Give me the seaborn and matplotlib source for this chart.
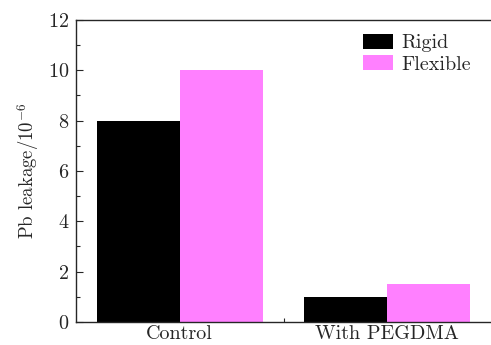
import matplotlib
matplotlib.use("Agg")
import matplotlib.pyplot as plt
import seaborn as sns
import pandas as pd
from matplotlib.ticker import MultipleLocator, FixedLocator

categories = ["Control", "With PEGDMA"]
rigid = [8.0, 1.0]
flexible = [10.0, 1.5]
series = ["Rigid", "Flexible"]
colors = ["#000000", "#FF80FF"]

df = pd.DataFrame({
    "cat": categories * 2,
    "val": rigid + flexible,
    "type": [series[0]] * 2 + [series[1]] * 2,
})

sns.set_style("ticks")
plt.rcParams["font.family"] = ["cmr10", "DejaVu Serif"]
plt.rcParams["mathtext.fontset"] = "cm"
plt.rcParams["axes.formatter.use_mathtext"] = True

FS = 14.5
fig = plt.figure(figsize=(4.91, 3.45), dpi=100)
ax = fig.add_axes([0.1548, 0.0667, 0.8452, 0.8754])
sns.barplot(data=df, x="cat", y="val", hue="type", palette=colors,
            width=0.8, saturation=1, ax=ax, edgecolor="none")
ax.set_xlim(-0.5, 1.5)
ax.set_ylim(0, 12)
ax.yaxis.set_major_locator(MultipleLocator(2))
ax.yaxis.set_minor_locator(MultipleLocator(1))
ax.xaxis.set_minor_locator(FixedLocator([0.5]))
ax.tick_params(axis="y", which="major", direction="in", length=5, width=0.8, labelsize=FS, pad=5)
ax.tick_params(axis="y", which="minor", direction="in", length=3, width=0.8)
ax.tick_params(axis="x", which="major", length=0, labelsize=FS, pad=2.5)
ax.tick_params(axis="x", which="minor", direction="in", length=3, width=0.8)
ax.set_xlabel("")
ax.set_ylabel(r"Pb leakage/$10^{-6}$", fontsize=13.5, labelpad=5)
for s in ["left", "bottom", "top"]:
    ax.spines[s].set_visible(True)
    ax.spines[s].set_linewidth(1.0)
ax.spines["right"].set_visible(False)
leg = ax.legend(loc="upper right", frameon=False, fontsize=FS,
                handlelength=1.5, handleheight=0.75, handletextpad=0.4,
                labelspacing=0.15, borderaxespad=0.3,
                bbox_to_anchor=(0.985, 1.0))
fig.savefig("out.png", dpi=100)
